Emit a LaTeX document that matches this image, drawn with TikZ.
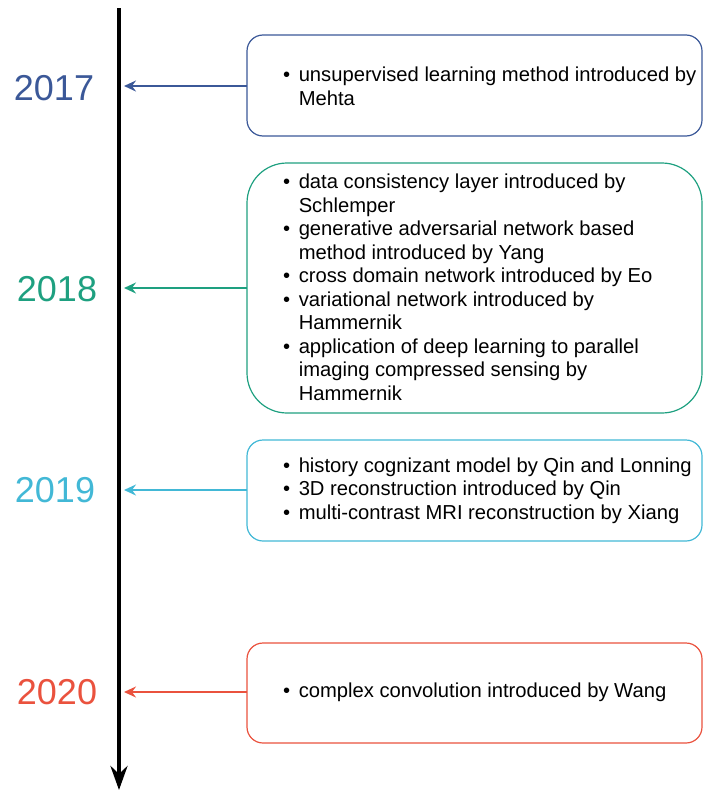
\documentclass[tikz,border=0pt]{standalone}
\usepackage{fontspec}
\setmainfont{Liberation Sans}
\usetikzlibrary{arrows.meta}
\definecolor{cA}{RGB}{59,88,152}
\definecolor{cB}{RGB}{30,160,128}
\definecolor{cC}{RGB}{66,184,214}
\definecolor{cD}{RGB}{234,82,62}
\tikzset{
  x=1pt, y=-1pt,
  yearlbl/.style={font=\fontsize{36}{40}\selectfont, anchor=center, inner sep=0pt},
  evbox/.style={draw, line width=1.2pt, rounded corners=#1, inner sep=0pt},
  evtext/.style={anchor=west, inner sep=0pt, align=left, font=\fontsize{20.2}{23.5}\selectfont},
  link/.style={line width=1.7pt, -{Stealth[length=12pt,width=11pt,inset=4pt]}}
}
\newcommand{\bl}{\textbullet}
\begin{document}
\begin{tikzpicture}
\useasboundingbox (0,0) rectangle (703,790);
% timeline
\coordinate (ttop) at (119,8);
\coordinate (tbot) at (119,790);
\draw[line width=4pt, -{Stealth[length=24pt,width=17pt,inset=8pt]}] (ttop) -- (tbot);
% years
\node[yearlbl, text=cA] (y17) at (54,88) {2017};
\node[yearlbl, text=cB] (y18) at (57,289) {2018};
\node[yearlbl, text=cC] (y19) at (55,490) {2019};
\node[yearlbl, text=cD] (y20) at (57,692) {2020};
% anchor points on timeline
\coordinate (p17) at (124,86);
\coordinate (p18) at (124,288);
\coordinate (p19) at (124,490);
\coordinate (p20) at (124,692);
% boxes
\draw[evbox=16pt, draw=cA] (247,35) rectangle (702,136);
\coordinate (b17) at (247,86);
\draw[evbox=40pt, draw=cB] (247,163) rectangle (702,413);
\coordinate (b18) at (247,288);
\draw[evbox=16pt, draw=cC] (247,440) rectangle (702,541);
\coordinate (b19) at (247,490);
\draw[evbox=16pt, draw=cD] (247,643) rectangle (702,743);
\coordinate (b20) at (247,692);
% texts
\node[evtext] (t17) at (283,89) {\begin{tabular}{@{}l@{\hspace{8.5pt}}l@{}}
\bl & unsupervised learning method introduced by\\
 & Mehta\end{tabular}};
\node[evtext] (t18) at (283,290) {\begin{tabular}{@{}l@{\hspace{8.5pt}}l@{}}
\bl & data consistency layer introduced by\\
 & Schlemper\\
\bl & generative adversarial network based\\
 & method introduced by Yang\\
\bl & cross domain network introduced by Eo\\
\bl & variational network introduced by\\
 & Hammernik\\
\bl & application of deep learning to parallel\\
 & imaging compressed sensing by\\
 & Hammernik\end{tabular}};
\node[evtext] (t19) at (283,491) {\begin{tabular}{@{}l@{\hspace{8.5pt}}l@{}}
\bl & history cognizant model by Qin and Lonning\\
\bl & 3D reconstruction introduced by Qin\\
\bl & multi-contrast MRI reconstruction by Xiang\end{tabular}};
\node[evtext] (t20) at (283,693) {\begin{tabular}{@{}l@{\hspace{8.5pt}}l@{}}
\bl & complex convolution introduced by Wang\end{tabular}};
% connectors
\draw[link, cA] (b17) -- (p17);
\draw[link, cB] (b18) -- (p18);
\draw[link, cC] (b19) -- (p19);
\draw[link, cD] (b20) -- (p20);
\end{tikzpicture}
\end{document}
